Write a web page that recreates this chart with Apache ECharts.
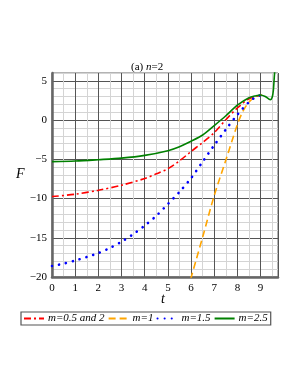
<!DOCTYPE html>
<html>
<head>
<meta charset="utf-8">
<script src="https://cdn.jsdelivr.net/npm/echarts@6/dist/echarts.min.js"></script>
<style>html,body{margin:0;padding:0;background:#fff;}#c{width:300px;height:388px;}</style>
</head>
<body>
<div id="c"></div>
<script>
// Data
var tRed   = [0, 1, 2, 3, 4, 4.5, 5, 5.5, 6, 6.5, 7, 7.5, 8, 8.5, 9.05];
var fRed   = [-9.75, -9.45, -8.95, -8.3, -7.45, -6.85, -6.2, -5.2, -4.0, -2.85, -1.6, 0.05, 1.55, 2.7, 3.2];

var tOrange = [5.98, 6.5, 7.0, 7.5, 8.0, 8.25, 8.5, 8.75, 9.05];
var fOrange = [-20.3, -14.9, -9.6, -5.1, -0.55, 1.2, 2.3, 2.9, 3.2];

var tBlue  = [0, 0.5, 1, 1.5, 2, 2.5, 3, 3.5, 4, 4.5, 5, 5.5, 6, 6.5, 7, 7.5, 8, 8.5, 8.8, 9.05];
var fBlue  = [-18.6, -18.3, -17.9, -17.45, -16.95, -16.3, -15.5, -14.55, -13.45, -12.2, -10.7, -9.15, -7.4, -5.3, -3.2, -1.2, 0.7, 2.3, 2.95, 3.2];

var tGreen = [0, 1, 2, 3, 4, 5, 5.5, 6, 6.5, 7, 7.5, 8, 8.5, 8.8, 9.0, 9.2, 9.42, 9.5, 9.55, 9.59, 9.64];
var fGreen = [-5.3, -5.22, -5.05, -4.85, -4.5, -3.9, -3.4, -2.7, -1.9, -0.7, 0.55, 1.9, 2.85, 3.1, 3.2, 3.0, 2.6, 2.9, 3.8, 5.5, 7.5];

var seriesNames = ['m=0.5 and 2', 'm=1', 'm=1.5', 'm=2.5'];
var xTickLabels = ['0','1','2','3','4','5','6','7','8','9'];
var yTickLabels = ['5','0','\u22125','\u221210','\u221215','\u221220'];

function pairs(t, f) { return t.map(function (v, i) { return [v, f[i]]; }); }

var FONT = '"Liberation Serif", "DejaVu Serif", serif';
var chart = echarts.init(document.getElementById('c'), null, {renderer: 'canvas'});
chart.setOption({
  backgroundColor: '#fff',
  animation: false,
  grid: {left: 52, right: 22, top: 73, bottom: 111, show: true, borderColor: '#666', borderWidth: 1},
  xAxis: {
    type: 'value', min: 0, max: 9.75, interval: 0.5,
    axisLine: {show: true, onZero: false, lineStyle: {color: '#666', width: 2.5}},
    axisTick: {show: false},
    axisLabel: {
      showMaxLabel: false, margin: 6, color: '#000', fontFamily: FONT, fontSize: 11,
      formatter: function (v) { var s = String(Math.round(v)); return (Math.abs(v - Math.round(v)) < 1e-6 && xTickLabels.indexOf(s) >= 0) ? s : ''; }
    },
    splitLine: {show: true, lineStyle: {color: ['#555', '#d4d4d4'], width: 1}}
  },
  yAxis: {
    type: 'value', min: -20, max: 6, interval: 1,
    axisLine: {show: true, onZero: false, lineStyle: {color: '#666', width: 2.5}},
    axisTick: {show: false},
    axisLabel: {
      showMaxLabel: false, margin: 5, color: '#000', fontFamily: FONT, fontSize: 11,
      formatter: function (v) { var s = String(Math.round(v)).replace('-', '\u2212'); return yTickLabels.indexOf(s) >= 0 ? s : ''; }
    },
    splitLine: {show: true, lineStyle: {color: ['#555', '#d4d4d4', '#d4d4d4', '#d4d4d4', '#d4d4d4'], width: 1}}
  },
  legend: {
    left: 21, top: 312, orient: 'horizontal',
    data: seriesNames,
    itemWidth: 20, itemHeight: 8, itemGap: 3,
    padding: [1, 3, 1, 2],
    borderColor: '#555', borderWidth: 1.2,
    itemStyle: {opacity: 0},
    textStyle: {fontFamily: FONT, fontStyle: 'italic', fontSize: 11, color: '#000', padding: [0, 0, 0, -1]}
  },
  graphic: [
    {type: 'text', left: 131, top: 62, style: {
      rich: {a: {fontFamily: FONT, fontSize: 11, fill: '#000'}, b: {fontFamily: FONT, fontSize: 11, fontStyle: 'italic', fill: '#000'}},
      text: '{a|(a) }{b|n}{a|=2}'}},
    {type: 'text', left: 16, top: 167, style: {text: 'F', fontFamily: FONT, fontStyle: 'italic', fontSize: 14, fill: '#000'}},
    {type: 'text', left: 161, top: 292, style: {text: 't', fontFamily: FONT, fontStyle: 'italic', fontSize: 14, fill: '#000'}}
  ],
  series: [
    {name: seriesNames[0], type: 'line', data: pairs(tRed, fRed), smooth: 0.3, symbol: 'none', clip: true, z: 3,
     lineStyle: {color: '#ff0000', width: 1.6, type: [7, 3, 2, 3]}, itemStyle: {color: '#ff0000'}},
    {name: seriesNames[1], type: 'line', data: pairs(tOrange, fOrange), smooth: 0.3, symbol: 'none', clip: true, z: 3,
     lineStyle: {color: '#ffa500', width: 1.6, type: [7, 4]}, itemStyle: {color: '#ffa500'}},
    {name: seriesNames[2], type: 'line', data: pairs(tBlue, fBlue), smooth: 0.3, symbol: 'none', clip: true, z: 3,
     lineStyle: {color: '#0000ff', width: 2.6, type: [0.1, 7], cap: 'round'}, itemStyle: {color: '#0000ff'}},
    {name: seriesNames[3], type: 'line', data: pairs(tGreen, fGreen), smooth: 0.3, symbol: 'none', clip: true, z: 4,
     lineStyle: {color: '#008000', width: 1.6}, itemStyle: {color: '#008000'}}
  ]
});
</script>
</body>
</html>
